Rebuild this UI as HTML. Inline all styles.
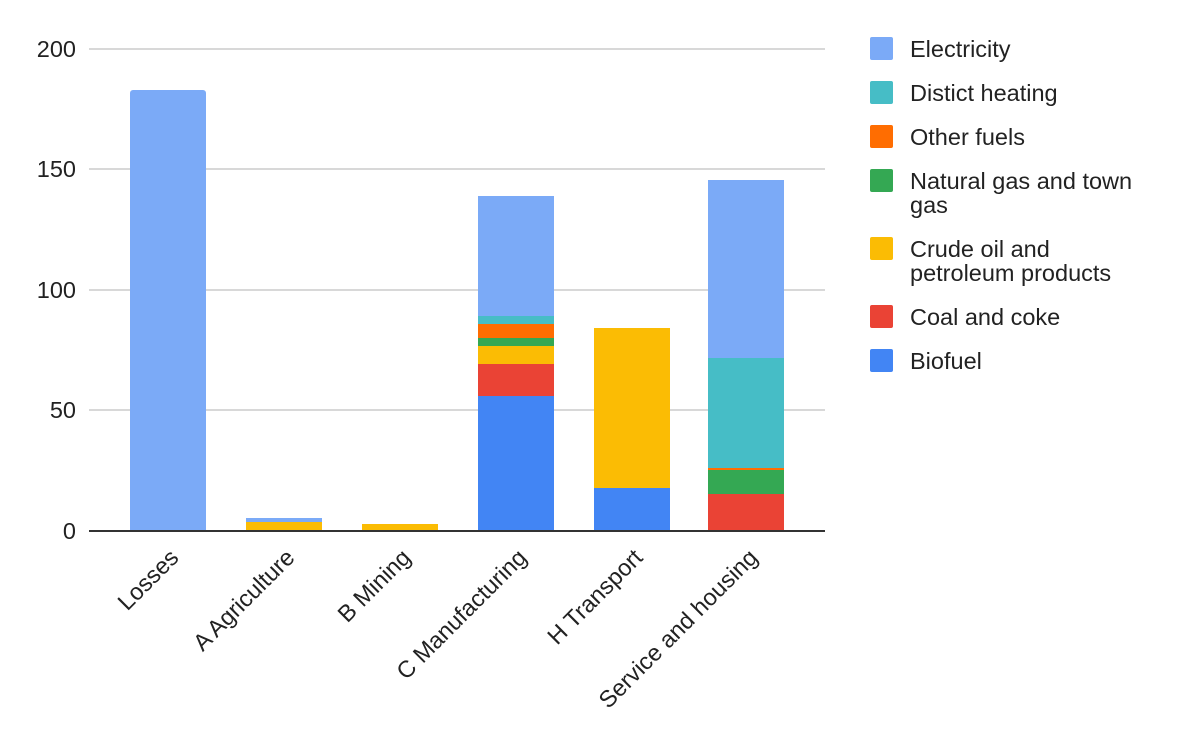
<!DOCTYPE html>
<html><head><meta charset="utf-8"><style>
html,body{margin:0;padding:0;background:#fff;}
svg{display:block;font-family:"Liberation Sans",Arial,sans-serif;}
</style></head><body>
<svg width="1200" height="742" viewBox="0 0 1200 742" xmlns="http://www.w3.org/2000/svg">
<g stroke="#cccccc" stroke-width="1.5">
<line x1="89" x2="825" y1="49" y2="49"/>
<line x1="89" x2="825" y1="169" y2="169"/>
<line x1="89" x2="825" y1="290" y2="290"/>
<line x1="89" x2="825" y1="410" y2="410"/>
</g>
<g font-size="23.5" fill="#222" text-anchor="end">
<text x="76" y="57">200</text>
<text x="76" y="177">150</text>
<text x="76" y="298">100</text>
<text x="76" y="418">50</text>
<text x="76" y="539">0</text>
</g>
<!-- Losses -->
<rect x="130" y="90" width="76" height="441" rx="3" fill="#7baaf7"/>
<rect x="130" y="100" width="76" height="431" fill="#7baaf7"/>
<!-- Agriculture -->
<rect x="246" y="518" width="76" height="5" fill="#7baaf7"/>
<rect x="246" y="522" width="76" height="9" fill="#fbbc04"/>
<!-- Mining -->
<rect x="362" y="524" width="76" height="7" fill="#fbbc04"/>
<!-- Manufacturing -->
<rect x="478" y="196" width="76" height="120" fill="#7baaf7"/>
<rect x="478" y="316" width="76" height="8" fill="#46bdc6"/>
<rect x="478" y="324" width="76" height="14" fill="#ff6d01"/>
<rect x="478" y="338" width="76" height="8" fill="#34a853"/>
<rect x="478" y="346" width="76" height="18" fill="#fbbc04"/>
<rect x="478" y="364" width="76" height="32" fill="#ea4335"/>
<rect x="478" y="396" width="76" height="135" fill="#4285f4"/>
<!-- Transport -->
<rect x="594" y="328" width="76" height="160" fill="#fbbc04"/>
<rect x="594" y="488" width="76" height="43" fill="#4285f4"/>
<!-- Service -->
<rect x="708" y="180" width="76" height="178" fill="#7baaf7"/>
<rect x="708" y="358" width="76" height="110" fill="#46bdc6"/>
<rect x="708" y="468" width="76" height="2" fill="#ff6d01"/>
<rect x="708" y="470" width="76" height="24" fill="#34a853"/>
<rect x="708" y="494" width="76" height="37" fill="#ea4335"/>
<line x1="89" x2="825" y1="531" y2="531" stroke="#333" stroke-width="2"/>
<g font-size="23.5" fill="#222" text-anchor="end">
<text transform="translate(180,559) rotate(-45)">Losses</text>
<text transform="translate(296,559) rotate(-45)">A Agriculture</text>
<text transform="translate(412,559) rotate(-45)">B Mining</text>
<text transform="translate(528,559) rotate(-45)">C Manufacturing</text>
<text transform="translate(644,559) rotate(-45)">H Transport</text>
<text transform="translate(759,559) rotate(-45)">Service and housing</text>
</g>
<g>
<rect x="870" y="37" width="23" height="23" rx="2" fill="#7baaf7"/>
<rect x="870" y="81" width="23" height="23" rx="2" fill="#46bdc6"/>
<rect x="870" y="125" width="23" height="23" rx="2" fill="#ff6d01"/>
<rect x="870" y="169" width="23" height="23" rx="2" fill="#34a853"/>
<rect x="870" y="237" width="23" height="23" rx="2" fill="#fbbc04"/>
<rect x="870" y="305" width="23" height="23" rx="2" fill="#ea4335"/>
<rect x="870" y="349" width="23" height="23" rx="2" fill="#4285f4"/>
</g>
<g font-size="23.5" fill="#222">
<text x="910" y="57">Electricity</text>
<text x="910" y="101">Distict heating</text>
<text x="910" y="145">Other fuels</text>
<text x="910" y="189">Natural gas and town</text>
<text x="910" y="213">gas</text>
<text x="910" y="257">Crude oil and</text>
<text x="910" y="281">petroleum products</text>
<text x="910" y="325">Coal and coke</text>
<text x="910" y="369">Biofuel</text>
</g>
</svg>
</body></html>
